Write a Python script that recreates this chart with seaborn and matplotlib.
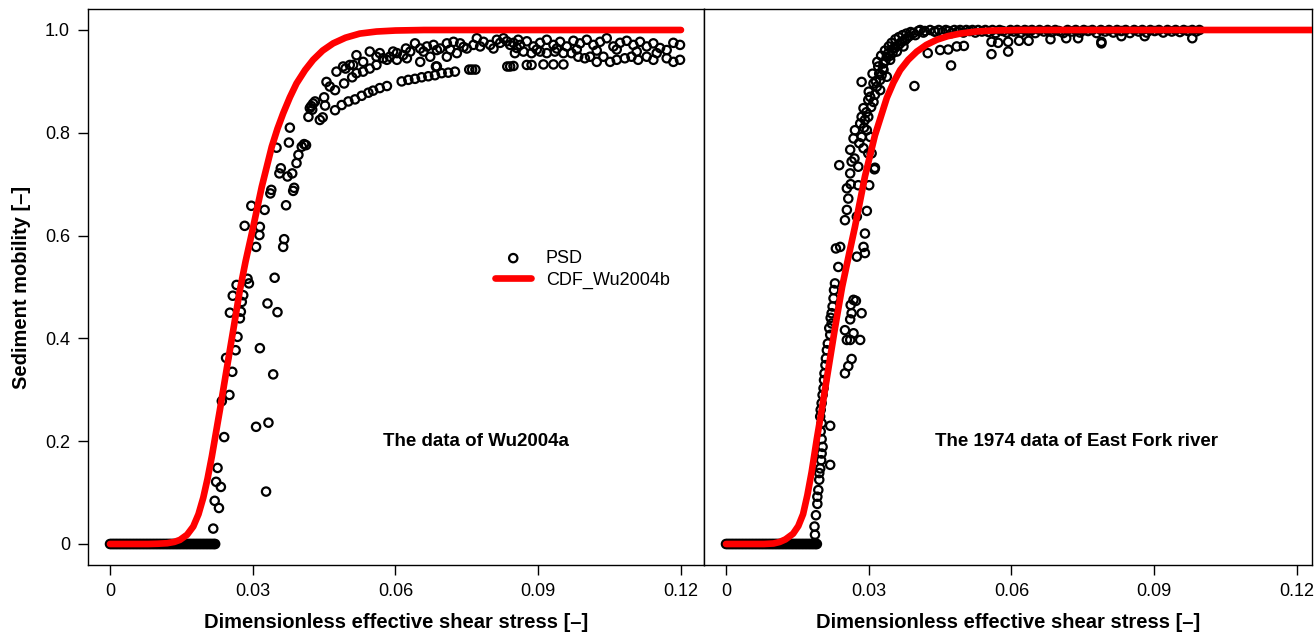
import numpy as np
import pandas as pd
import seaborn as sns
import matplotlib.pyplot as plt

# ==============================
# Data
# ==============================

# --- Wu2004a panel ---
# fractions with zero mobility (y = 0), a dense run of points
wu_zero_x = [0.0, 0.0003, 0.0006, 0.0009, 0.0012, 0.0015, 0.0018, 0.0021, 0.0024,
             0.0027, 0.0030, 0.0033, 0.0036, 0.0039, 0.0042, 0.0045, 0.0048, 0.0051,
             0.0054, 0.0057, 0.0060, 0.0063, 0.0066, 0.0069, 0.0072, 0.0075, 0.0078,
             0.0081, 0.0084, 0.0087, 0.0090, 0.0093, 0.0096, 0.0099, 0.0102, 0.0105,
             0.0108, 0.0111, 0.0114, 0.0117, 0.0120, 0.0123, 0.0126, 0.0129, 0.0132,
             0.0135, 0.0138, 0.0141, 0.0144, 0.0147, 0.0150, 0.0153, 0.0156, 0.0159,
             0.0162, 0.0165, 0.0168, 0.0171, 0.0174, 0.0177, 0.0180, 0.0183, 0.0186,
             0.0189, 0.0192, 0.0195, 0.0198, 0.0201, 0.0204, 0.0207, 0.0210, 0.0213,
             0.0216, 0.0219, 0.0221]

# rising part
wu_rise = [(0.0217, 0.030), (0.0220, 0.084), (0.0229, 0.070), (0.0223, 0.121),
           (0.0233, 0.111), (0.0226, 0.148), (0.0328, 0.102), (0.0240, 0.208),
           (0.0307, 0.228), (0.0333, 0.236), (0.0235, 0.278), (0.0251, 0.290),
           (0.0343, 0.330), (0.0257, 0.335), (0.0244, 0.362), (0.0264, 0.377),
           (0.0315, 0.381), (0.0268, 0.403), (0.0252, 0.450), (0.0273, 0.439),
           (0.0275, 0.452), (0.0352, 0.451), (0.0331, 0.468), (0.0258, 0.483),
           (0.0280, 0.484), (0.0277, 0.471), (0.0266, 0.504), (0.0292, 0.507),
           (0.0289, 0.516), (0.0346, 0.518), (0.0364, 0.578), (0.0366, 0.593),
           (0.0283, 0.619), (0.0315, 0.617), (0.0307, 0.578), (0.0314, 0.601),
           (0.0297, 0.658), (0.0325, 0.650), (0.0370, 0.659), (0.0337, 0.682),
           (0.0339, 0.689), (0.0385, 0.687), (0.0387, 0.693), (0.0356, 0.721),
           (0.0359, 0.731), (0.0373, 0.715), (0.0383, 0.721), (0.0392, 0.741),
           (0.0396, 0.757), (0.0350, 0.771), (0.0376, 0.781), (0.0403, 0.773),
           (0.0408, 0.778), (0.0412, 0.776), (0.0378, 0.810), (0.0417, 0.831),
           (0.0441, 0.825), (0.0447, 0.830), (0.0420, 0.848), (0.0427, 0.857),
           (0.0431, 0.861), (0.0452, 0.853), (0.0450, 0.869), (0.0455, 0.899),
           (0.0462, 0.890), (0.0473, 0.883), (0.0423, 0.852), (0.0425, 0.845)]

# lower branch of the plateau
wu_lower = [(0.0473, 0.844), (0.0487, 0.854), (0.0501, 0.861), (0.0515, 0.865),
            (0.0529, 0.872), (0.0543, 0.878), (0.0553, 0.882), (0.0567, 0.887),
            (0.0582, 0.891), (0.0613, 0.900), (0.0627, 0.903), (0.0641, 0.905),
            (0.0655, 0.908), (0.0669, 0.910), (0.0683, 0.912), (0.0697, 0.916),
            (0.0711, 0.917), (0.0725, 0.919), (0.0685, 0.929), (0.0755, 0.923),
            (0.0761, 0.923), (0.0768, 0.923), (0.0835, 0.929), (0.0841, 0.929),
            (0.0848, 0.930), (0.0876, 0.932), (0.0886, 0.932), (0.0911, 0.933),
            (0.0932, 0.933), (0.0953, 0.933)]

# upper branch of the plateau
wu_upper = [(0.0476, 0.919), (0.0495, 0.925), (0.0511, 0.932), (0.0518, 0.951),
            (0.0492, 0.896), (0.0509, 0.908), (0.0490, 0.929), (0.0504, 0.932),
            (0.0532, 0.938), (0.0546, 0.958), (0.0560, 0.948), (0.0574, 0.945),
            (0.0588, 0.948), (0.0603, 0.955), (0.0616, 0.951), (0.0631, 0.958),
            (0.0641, 0.974), (0.0652, 0.964), (0.0666, 0.968), (0.0680, 0.971),
            (0.0694, 0.964), (0.0708, 0.974), (0.0722, 0.977), (0.0736, 0.974),
            (0.0750, 0.964), (0.0771, 0.984), (0.0778, 0.968), (0.0799, 0.971),
            (0.0813, 0.981), (0.0827, 0.984), (0.0841, 0.971), (0.0858, 0.981),
            (0.0518, 0.916), (0.0532, 0.919), (0.0546, 0.925), (0.0560, 0.932),
            (0.0582, 0.942), (0.0603, 0.942), (0.0624, 0.945), (0.0652, 0.938),
            (0.0673, 0.948), (0.0687, 0.929), (0.0708, 0.948), (0.0729, 0.955),
            (0.0567, 0.955), (0.0595, 0.958), (0.0622, 0.964), (0.0659, 0.958),
            (0.0687, 0.961), (0.0715, 0.962), (0.0743, 0.967), (0.0764, 0.971),
            (0.0785, 0.977), (0.0806, 0.964), (0.0820, 0.975), (0.0834, 0.978),
            (0.0848, 0.975), (0.0862, 0.971), (0.0876, 0.978), (0.0890, 0.968),
            (0.0904, 0.975), (0.0918, 0.981), (0.0932, 0.971), (0.0946, 0.977),
            (0.0960, 0.968), (0.0974, 0.979), (0.0988, 0.974), (0.1002, 0.981),
            (0.1016, 0.971), (0.1030, 0.977), (0.1044, 0.984), (0.1058, 0.968),
            (0.1072, 0.975), (0.1086, 0.979), (0.1100, 0.971), (0.1114, 0.977),
            (0.1128, 0.968), (0.1142, 0.974), (0.1156, 0.965), (0.1170, 0.961),
            (0.1184, 0.975), (0.1198, 0.971),
            (0.0855, 0.965), (0.0897, 0.962), (0.0939, 0.964), (0.0981, 0.962),
            (0.1023, 0.960), (0.1065, 0.962), (0.1107, 0.958), (0.1149, 0.955),
            (0.0851, 0.955), (0.0869, 0.958), (0.0886, 0.955), (0.0904, 0.958),
            (0.0918, 0.955), (0.0935, 0.958), (0.0953, 0.955), (0.0970, 0.955),
            (0.0984, 0.948), (0.0998, 0.945), (0.1009, 0.948), (0.1023, 0.938),
            (0.1037, 0.948), (0.1051, 0.938), (0.1065, 0.942), (0.1082, 0.945),
            (0.1096, 0.948), (0.1110, 0.942), (0.1128, 0.948), (0.1142, 0.942),
            (0.1170, 0.945), (0.1184, 0.938), (0.1198, 0.942)]

wu_cdf_x = [0.0, 0.008, 0.010, 0.012, 0.0135, 0.0147, 0.0162, 0.0175, 0.0186,
            0.0196, 0.0205, 0.0214, 0.0231, 0.0245, 0.0259, 0.0273, 0.0285,
            0.0298, 0.0319, 0.0340, 0.0352, 0.0364, 0.0378, 0.0392, 0.0410,
            0.0427, 0.0447, 0.0469, 0.0495, 0.0525, 0.0560, 0.0600, 0.0660, 0.12]
wu_cdf_y = [0.0, 0.0, 0.0005, 0.0015, 0.004, 0.008, 0.018, 0.034, 0.058, 0.090,
            0.127, 0.170, 0.261, 0.339, 0.416, 0.494, 0.550, 0.604, 0.695,
            0.773, 0.808, 0.838, 0.869, 0.896, 0.922, 0.942, 0.960, 0.974,
            0.985, 0.993, 0.997, 0.999, 1.0, 1.0]

# --- East Fork 1974 panel ---
ef_zero_x = [0.0, 0.0003, 0.0006, 0.0009, 0.0012, 0.0015, 0.0018, 0.0021, 0.0024,
             0.0027, 0.0030, 0.0033, 0.0036, 0.0039, 0.0042, 0.0045, 0.0048, 0.0051,
             0.0054, 0.0057, 0.0060, 0.0063, 0.0066, 0.0069, 0.0072, 0.0075, 0.0078,
             0.0081, 0.0084, 0.0087, 0.0090, 0.0093, 0.0096, 0.0099, 0.0102, 0.0105,
             0.0108, 0.0111, 0.0114, 0.0117, 0.0120, 0.0123, 0.0126, 0.0129, 0.0132,
             0.0135, 0.0138, 0.0141, 0.0144, 0.0147, 0.0150, 0.0153, 0.0156, 0.0159,
             0.0162, 0.0165, 0.0168, 0.0171, 0.0174, 0.0177, 0.0180, 0.0183, 0.0186,
             0.0189, 0.0191]

ef_rise = [(0.0186, 0.002), (0.0187, 0.018), (0.0186, 0.034), (0.0189, 0.056),
           (0.0192, 0.078), (0.0192, 0.092), (0.0194, 0.105), (0.0196, 0.125),
           (0.0196, 0.138), (0.0198, 0.147), (0.0200, 0.163), (0.0201, 0.176),
           (0.0203, 0.189), (0.0201, 0.204), (0.0199, 0.219), (0.0201, 0.235),
           (0.0198, 0.248), (0.0199, 0.261), (0.0201, 0.274), (0.0203, 0.290),
           (0.0205, 0.303), (0.0206, 0.319), (0.0207, 0.332), (0.0209, 0.348),
           (0.0210, 0.361), (0.0212, 0.377), (0.0219, 0.407), (0.0222, 0.429),
           (0.0222, 0.449), (0.0224, 0.462), (0.0226, 0.478), (0.0227, 0.494),
           (0.0229, 0.507), (0.0219, 0.230), (0.0219, 0.154), (0.0250, 0.332),
           (0.0257, 0.346), (0.0264, 0.360), (0.0254, 0.397), (0.0261, 0.397),
           (0.0282, 0.397), (0.0268, 0.410), (0.0250, 0.416), (0.0261, 0.437),
           (0.0264, 0.449), (0.0285, 0.449), (0.0268, 0.475), (0.0273, 0.473),
           (0.0262, 0.465), (0.0214, 0.390), (0.0217, 0.420), (0.0220, 0.440),
           (0.0236, 0.539), (0.0240, 0.578), (0.0231, 0.575), (0.0289, 0.578),
           (0.0292, 0.566), (0.0275, 0.559), (0.0292, 0.604), (0.0250, 0.630),
           (0.0254, 0.650), (0.0296, 0.648), (0.0275, 0.637), (0.0257, 0.672),
           (0.0254, 0.692), (0.0278, 0.698), (0.0301, 0.698), (0.0261, 0.721),
           (0.0238, 0.737), (0.0278, 0.734), (0.0312, 0.729), (0.0313, 0.732),
           (0.0264, 0.744), (0.0261, 0.767), (0.0289, 0.770), (0.0299, 0.760),
           (0.0306, 0.760), (0.0268, 0.789), (0.0285, 0.792), (0.0303, 0.792),
           (0.0271, 0.805), (0.0296, 0.805), (0.0282, 0.818), (0.0285, 0.831),
           (0.0292, 0.825), (0.0299, 0.831), (0.0289, 0.848), (0.0299, 0.864),
           (0.0303, 0.870), (0.0313, 0.874), (0.0285, 0.899), (0.0310, 0.896),
           (0.0317, 0.890), (0.0324, 0.903), (0.0327, 0.912), (0.0320, 0.929),
           (0.0331, 0.935), (0.0338, 0.948), (0.0341, 0.955), (0.0352, 0.964),
           (0.0366, 0.974), (0.0380, 0.984), (0.0394, 0.994), (0.0331, 0.922),
           (0.0345, 0.942), (0.0359, 0.958), (0.0373, 0.968), (0.0324, 0.883),
           (0.0338, 0.909), (0.0262, 0.700), (0.0270, 0.750), (0.0280, 0.780),
           (0.0290, 0.810), (0.0295, 0.840), (0.0305, 0.850), (0.0310, 0.860),
           (0.0300, 0.880), (0.0315, 0.900), (0.0322, 0.915), (0.0330, 0.925),
           (0.0335, 0.940), (0.0345, 0.950), (0.0350, 0.955), (0.0355, 0.965),
           (0.0362, 0.970), (0.0370, 0.978), (0.0376, 0.980), (0.0385, 0.988),
           (0.0398, 0.990), (0.0415, 0.995), (0.0440, 0.997), (0.0342, 0.968),
           (0.0348, 0.975), (0.0356, 0.982), (0.0363, 0.986), (0.0371, 0.990),
           (0.0379, 0.993), (0.0388, 0.996), (0.0404, 0.998), (0.0326, 0.950),
           (0.0334, 0.960), (0.0318, 0.938), (0.0308, 0.915)]

# dense run of points hugging 1.0
ef_plateau = [(0.0408, 1.0), (0.0418, 0.998), (0.0429, 1.0), (0.0438, 0.997),
              (0.0447, 1.0), (0.0455, 0.996), (0.0462, 1.0), (0.0468, 0.998),
              (0.0474, 0.994), (0.0480, 1.0), (0.0487, 0.997), (0.0492, 1.0),
              (0.0499, 0.995), (0.0505, 1.0), (0.0512, 0.998), (0.0518, 1.0),
              (0.0524, 0.995), (0.0530, 1.0), (0.0538, 0.997), (0.0545, 1.0),
              (0.0552, 0.996), (0.0560, 1.0), (0.0567, 0.994), (0.0575, 1.0),
              (0.0582, 0.998), (0.0590, 0.995), (0.0598, 1.0), (0.0605, 0.997),
              (0.0612, 1.0), (0.0620, 0.995), (0.0628, 1.0), (0.0635, 0.998),
              (0.0643, 1.0), (0.0650, 0.994), (0.0659, 1.0), (0.0668, 0.997),
              (0.0676, 1.0), (0.0685, 0.996), (0.0692, 1.0), (0.0700, 0.998),
              (0.0709, 0.994), (0.0718, 1.0), (0.0727, 0.997), (0.0735, 1.0),
              (0.0744, 0.995), (0.0752, 1.0), (0.0761, 0.998), (0.0770, 1.0),
              (0.0779, 0.994), (0.0788, 1.0), (0.0797, 0.997), (0.0805, 1.0),
              (0.0814, 0.995), (0.0822, 1.0), (0.0831, 0.998), (0.0840, 1.0),
              (0.0849, 0.994), (0.0858, 1.0), (0.0867, 0.997), (0.0875, 1.0),
              (0.0884, 0.995), (0.0892, 1.0), (0.0901, 0.998), (0.0910, 1.0),
              (0.0919, 0.995), (0.0928, 1.0), (0.0937, 0.997), (0.0945, 1.0),
              (0.0954, 0.996), (0.0962, 1.0), (0.0971, 0.998), (0.0980, 1.0),
              (0.0988, 0.997), (0.0995, 1.0)]

ef_scatter = [(0.0424, 0.955), (0.0450, 0.961), (0.0467, 0.962), (0.0485, 0.968),
              (0.0500, 0.969), (0.0473, 0.931), (0.0396, 0.891), (0.0558, 0.977),
              (0.0558, 0.953), (0.0572, 0.975), (0.0593, 0.958), (0.0593, 0.977),
              (0.0616, 0.979), (0.0636, 0.979), (0.0682, 0.982), (0.0715, 0.984),
              (0.0740, 0.984), (0.0789, 0.977), (0.0789, 0.974), (0.0831, 0.988),
              (0.0880, 0.988), (0.0980, 0.984)]

ef_cdf_x = [0.0, 0.008, 0.010, 0.0113, 0.0125, 0.0141, 0.0152, 0.0162, 0.0171,
            0.0180, 0.0191, 0.0201, 0.0215, 0.0229, 0.0244, 0.0260, 0.0271,
            0.0292, 0.0313, 0.0338, 0.0352, 0.0366, 0.0383, 0.0401, 0.0421,
            0.0443, 0.0466, 0.0492, 0.0525, 0.056, 0.062, 0.13]
ef_cdf_y = [0.0, 0.0, 0.001, 0.004, 0.009, 0.020, 0.035, 0.058, 0.095, 0.140,
            0.205, 0.260, 0.340, 0.420, 0.500, 0.570, 0.617, 0.715, 0.795,
            0.868, 0.898, 0.922, 0.942, 0.958, 0.971, 0.981, 0.988, 0.993,
            0.997, 0.999, 1.0, 1.0]

x_ticks = [0, 0.03, 0.06, 0.09, 0.12]
x_tick_labels = ["0", "0.03", "0.06", "0.09", "0.12"]
y_ticks = [0, 0.2, 0.4, 0.6, 0.8, 1.0]
y_tick_labels = ["0", "0.2", "0.4", "0.6", "0.8", "1.0"]


def psd_frame(zero_x, *groups):
    parts = [pd.DataFrame({"tau": zero_x, "mob": np.zeros(len(zero_x))})]
    for g in groups:
        parts.append(pd.DataFrame(g, columns=["tau", "mob"]))
    return pd.concat(parts, ignore_index=True)


wu_psd = psd_frame(wu_zero_x, wu_rise, wu_lower, wu_upper)
ef_psd = psd_frame(ef_zero_x, ef_rise, ef_plateau, ef_scatter)
wu_cdf = pd.DataFrame({"tau": wu_cdf_x, "mob": wu_cdf_y})
ef_cdf = pd.DataFrame({"tau": ef_cdf_x, "mob": ef_cdf_y})

# ==============================
# Plot
# ==============================
sns.set_style("ticks")
plt.rcParams["font.family"] = ["Liberation Sans", "DejaVu Sans"]
plt.rcParams.update({"text.color": "black", "axes.labelcolor": "black",
                     "xtick.color": "black", "ytick.color": "black",
                     "axes.edgecolor": "black"})

W, H = 1314, 636
fig = plt.figure(figsize=(W / 100, H / 100), dpi=100)
ax1 = fig.add_axes([88 / W, 1 - 565 / H, 616 / W, 556 / H])
ax2 = fig.add_axes([704 / W, 1 - 565 / H, 608 / W, 556 / H])

px = 4758.0  # pixels per unit of shear stress
panels = [(ax1, wu_psd, wu_cdf, "The data of Wu2004a", 0.0770, (704 - 110) / px),
          (ax2, ef_psd, ef_cdf, "The 1974 data of East Fork river", 0.0737, (1312 - 726) / px)]

for i, (ax, psd, cdf, title, tx, xmax) in enumerate(panels):
    sns.scatterplot(data=psd, x="tau", y="mob", ax=ax, marker="o", s=36,
                    facecolor="none", edgecolor="black", linewidth=1.6,
                    label="PSD" if i == 0 else None, zorder=2)
    sns.lineplot(data=cdf, x="tau", y="mob", ax=ax, color="#ff0000", lw=4.8,
                 estimator=None, solid_capstyle="round", solid_joinstyle="round",
                 label="CDF_Wu2004b" if i == 0 else None, zorder=3)
    ax.set_xlim(-22 / px, xmax)
    ax.set_ylim(-21 / 514, 535 / 514)
    ax.set_xticks(x_ticks)
    ax.set_xticklabels(x_tick_labels)
    ax.set_yticks(y_ticks)
    ax.set_yticklabels(y_tick_labels)
    ax.tick_params(length=7, width=1, labelsize=13, pad=6, color="black",
                   labelcolor="black")
    for sp in ax.spines.values():
        sp.set_visible(True)
        sp.set_linewidth(1.0)
        sp.set_color("black")
    ax.set_xlabel("Dimensionless effective shear stress [–]", fontsize=14.5,
                  fontweight="bold", labelpad=9)
    ax.text(tx, 0.2, title, ha="center", va="center", fontsize=13.5,
            fontweight="bold")

ax1.set_ylabel("Sediment mobility [–]", fontsize=14.5, fontweight="bold", labelpad=10)
ax2.set_ylabel("")
ax2.tick_params(axis="y", left=False, labelleft=False)

leg = ax1.legend(loc="center left", bbox_to_anchor=(0.661, 0.532), frameon=False,
                 fontsize=13, borderpad=0, borderaxespad=0, handlelength=2.0,
                 handletextpad=0.8, labelspacing=0.25)
if ax2.get_legend() is not None:
    ax2.get_legend().remove()

fig.savefig("out.png", dpi=100)
